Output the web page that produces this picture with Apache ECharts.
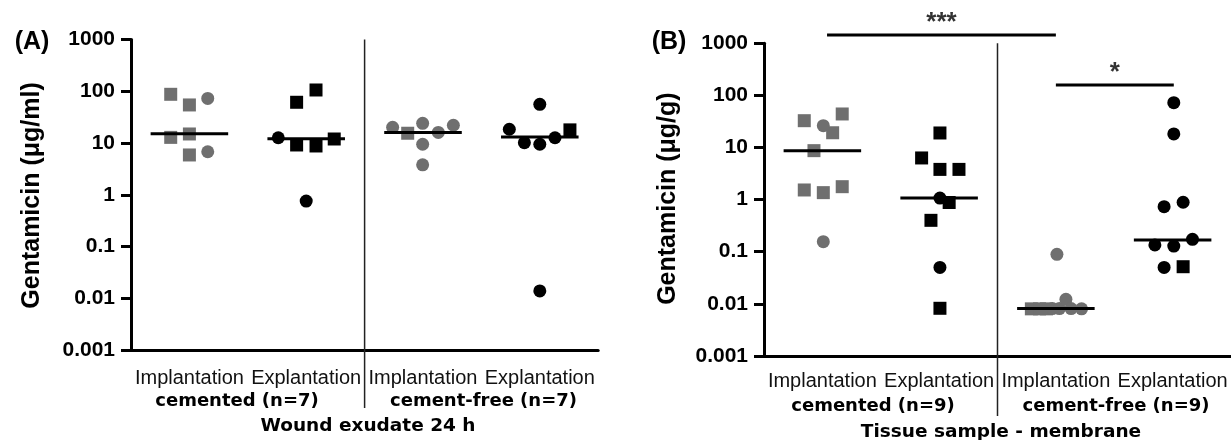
<!DOCTYPE html>
<html><head><meta charset="utf-8">
<script src="https://cdn.jsdelivr.net/npm/echarts@6/dist/echarts.min.js"></script>
<style>html,body{margin:0;padding:0;background:#fff}#c{width:1231px;height:440px}</style>
</head><body><div id="c"></div>
<script>
// ---- labels ----
const xTickLabels = ['Implantation', 'Explantation', 'Implantation', 'Explantation'];
const yTickLabels = ['0.001', '0.01', '0.1', '1', '10', '100', '1000'];
const groupLabelsA = ['cemented (n=7)', 'cement-free (n=7)'];
const groupLabelsB = ['cemented (n=9)', 'cement-free (n=9)'];
const titleA = 'Wound exudate 24 h';
const titleB = 'Tissue sample - membrane';
const yNameA = 'Gentamicin (μg/ml)';
const yNameB = 'Gentamicin (μg/g)';
const panelA = '(A)';
const panelB = '(B)';

// ---- Panel A: wound exudate 24 h, [group position incl. jitter, µg/ml] ----
const aImplCemSquares = [[0.84, 87.5], [1.0, 54.5], [0.84, 12.9], [1.0, 15.0], [1.0, 5.9]];
const aImplCemCircles = [[1.157, 73], [1.157, 6.8]];
const aExplCemSquares = [[1.918, 61.4], [2.084, 106], [1.918, 9.2], [2.084, 8.8], [2.24, 12.0]];
const aExplCemCircles = [[1.761, 12.7], [2.0, 0.76]];
const aImplFreeSquares = [[2.869, 15.5]];
const aImplFreeCircles = [[2.74, 20.2], [2.997, 24.1], [3.131, 16.1], [3.26, 22.1], [2.997, 9.5], [2.997, 3.8]];
const aExplFreeSquares = [[4.258, 18]];
const aExplFreeCircles = [[3.739, 18.5], [4.0, 56], [3.868, 10.2], [4.0, 9.5], [4.13, 12.7], [4.0, 0.014]];
const aMedians = [15.2, 12.2, 16.1, 13.1];

// ---- Panel B: tissue sample membrane, [group position incl. jitter, µg/g] ----
const bImplCemSquares = [[0.845, 32.7], [1.17, 44], [1.088, 19.2], [0.928, 8.7], [0.845, 1.53], [1.008, 1.36], [1.17, 1.77]];
const bImplCemCircles = [[1.008, 26.2], [1.008, 0.156]];
const bExplCemSquares = [[2.007, 19.0], [1.85, 6.3], [2.007, 3.8], [2.17, 3.8], [2.086, 0.88], [1.93, 0.40], [2.007, 0.0082]];
const bExplCemCircles = [[2.007, 1.07], [2.007, 0.050]];
const bImplFreeSquares = [[2.79, 0.0080], [2.86, 0.0080], [2.92, 0.0080]];
const bImplFreeCircles = [[3.009, 0.089], [2.97, 0.0081], [3.03, 0.0081], [3.086, 0.0122], [3.13, 0.0081], [3.22, 0.0080]];
const bExplFreeSquares = [[4.09, 0.0515]];
const bExplFreeCircles = [[4.01, 72.5], [4.01, 18.2], [3.927, 0.73], [4.09, 0.89], [3.848, 0.135], [4.01, 0.128], [4.17, 0.173], [3.927, 0.050]];
const bMedians = [8.7, 1.07, 0.0081, 0.168];

// significance brackets: [x from, x to, level], label
const sigBars = [[1.04, 3.0, 1443], [3.0, 4.01, 158]];
const sigLabels = ['***', '*'];

// ---- style ----
const GRAY = '#6f6f6f', BLACK = '#000';
const FONT = '"Liberation Sans", Arial, Helvetica, sans-serif';
const WIDE = '"DejaVu Sans", Verdana, sans-serif';

const grids = [
  { left: 131, top: 39.5, width: 467.2, height: 310.8 },
  { left: 764, top: 43.3, width: 467.2, height: 312.6 }
];
const labelMargins = [18, 16];

const xAxes = [], yAxes = [];
grids.forEach((g, i) => {
  xAxes.push({
    type: 'category', gridIndex: i, data: ['c1', 'c2', 'c3', 'c4'], boundaryGap: true,
    axisLine: { onZero: false, lineStyle: { color: BLACK, width: 3 } },
    axisTick: { alignWithLabel: true, interval: 0, length: 8, lineStyle: { color: BLACK, width: 3 } },
    axisLabel: { interval: 0, hideOverlap: false, margin: labelMargins[i], formatter: (v, idx) => xTickLabels[idx], color: '#111',
      fontFamily: FONT, fontSize: 20, lineHeight: 20 },
    splitLine: { show: false }
  });
  xAxes.push({ type: 'value', gridIndex: i, min: 0.5, max: 4.5, show: false });
  yAxes.push({
    type: 'log', gridIndex: i, logBase: 10, min: 0.001, max: 1000, splitNumber: 6,
    axisLine: { show: true, lineStyle: { color: BLACK, width: 3 } },
    axisTick: { show: true, length: 10, lineStyle: { color: BLACK, width: 3 } },
    axisLabel: { margin: 16, color: BLACK, fontFamily: FONT, fontWeight: 'bold', fontSize: 21,
      formatter: v => yTickLabels[Math.round(Math.log10(v)) + 3] },
    splitLine: { show: false }, minorTick: { show: false }
  });
});

const series = [];
function scat(gi, data, symbol, color) {
  series.push({ type: 'scatter', xAxisIndex: gi * 2 + 1, yAxisIndex: gi, data, symbol, symbolSize: 13,
    itemStyle: { color, opacity: 1 }, z: 2, silent: true });
}
scat(0, aImplCemSquares, 'rect', GRAY); scat(0, aImplCemCircles, 'circle', GRAY);
scat(0, aExplCemSquares, 'rect', BLACK); scat(0, aExplCemCircles, 'circle', BLACK);
scat(0, aImplFreeSquares, 'rect', GRAY); scat(0, aImplFreeCircles, 'circle', GRAY);
scat(0, aExplFreeSquares, 'rect', BLACK); scat(0, aExplFreeCircles, 'circle', BLACK);
scat(1, bImplCemSquares, 'rect', GRAY); scat(1, bImplCemCircles, 'circle', GRAY);
scat(1, bExplCemSquares, 'rect', BLACK); scat(1, bExplCemCircles, 'circle', BLACK);
scat(1, bImplFreeSquares, 'rect', GRAY); scat(1, bImplFreeCircles, 'circle', GRAY);
scat(1, bExplFreeSquares, 'rect', BLACK); scat(1, bExplFreeCircles, 'circle', BLACK);

function seg(gi, data, width, color, z) {
  series.push({ type: 'line', xAxisIndex: gi * 2 + 1, yAxisIndex: gi, data, symbol: 'none', clip: false,
    lineStyle: { color, width }, z, silent: true, animation: false });
}
[aMedians, bMedians].forEach((meds, gi) => {
  meds.forEach((m, k) => seg(gi, [[k + 1 - 0.332, m], [k + 1 + 0.332, m]], 3, BLACK, 4));
});
// group divider lines (extend below the axis through the labels)
seg(0, [[2.5, 1000], [2.5, 7.7e-5]], 1.5, '#222', 3);
seg(1, [[2.5, 1000], [2.5, 7.0e-5]], 1.5, '#222', 3);
// significance brackets
sigBars.forEach((b, k) => {
  seg(1, [[b[0], b[2]], [b[1], b[2]]], 3, BLACK, 4);
  series.push({ type: 'scatter', xAxisIndex: 3, yAxisIndex: 1, symbolSize: 0, clip: false, silent: true,
    data: [[(b[0] + b[1]) / 2, b[2]]],
    label: { show: true, position: 'inside', offset: [0, -12], formatter: sigLabels[k], color: BLACK,
      fontFamily: FONT, fontWeight: 'bold', fontSize: 26 } });
});

function txt(text, x, y, font, extra) {
  return Object.assign({ type: 'text', x, y, silent: true,
    style: { text, font, fill: BLACK, align: 'center', verticalAlign: 'middle', textAlign: 'center', textVerticalAlign: 'middle' } }, extra || {});
}
const graphic = [
  txt(panelA, 32, 42, 'bold 25px ' + FONT),
  txt(panelB, 669, 42.3, 'bold 25px ' + FONT),
  txt(yNameA, 32.6, 195.5, 'bold 25px ' + FONT, { rotation: Math.PI / 2 }),
  txt(yNameB, 668.4, 198.6, 'bold 25px ' + FONT, { rotation: Math.PI / 2 }),
  txt(groupLabelsA[0], 237, 401.5, 'bold 18px ' + WIDE),
  txt(groupLabelsA[1], 483.5, 401.5, 'bold 18px ' + WIDE),
  txt(groupLabelsB[0], 873, 406.5, 'bold 18px ' + WIDE),
  txt(groupLabelsB[1], 1116, 406.5, 'bold 18px ' + WIDE),
  txt(titleA, 368, 426, 'bold 18.5px ' + WIDE),
  txt(titleB, 1001, 432, 'bold 18.5px ' + WIDE)
];

const chart = echarts.init(document.getElementById('c'), null, { renderer: 'canvas' });
chart.setOption({
  animation: false,
  backgroundColor: '#fff',
  grid: grids,
  xAxis: xAxes,
  yAxis: yAxes,
  series,
  graphic
});
</script></body></html>
